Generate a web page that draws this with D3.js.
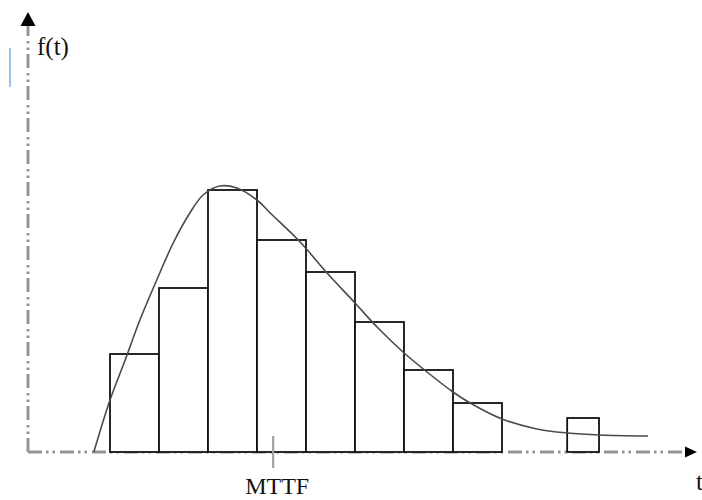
<!DOCTYPE html>
<html>
<head>
<meta charset="utf-8">
<script src="https://cdn.jsdelivr.net/npm/d3@7"></script>
<style>
  html, body { margin: 0; padding: 0; background: #fff; }
  svg { display: block; }
</style>
</head>
<body>
<svg id="chart" width="702" height="500"></svg>
<script>
	// histogram bins (bin index, in units of one bin width) and bar heights
	var binStart = [0, 1, 2, 3, 4, 5, 6, 7];
	var binHeight = [9.8, 16.4, 26.2, 21.2, 18.0, 13.0, 8.2, 4.9];

	// the lone small bin further out
	var outlierStart = [9.33];
	var outlierEnd = [9.98];
	var outlierHeight = [3.4];

	// fitted density curve
	var curveT = [-0.33, 0, 0.31, 0.61, 0.98, 1.29, 1.63, 1.9, 2.24, 2.59, 3.0, 3.27,
		3.88, 4.43, 5.0, 5.45, 5.98, 6.47, 7.0, 7.35, 8.0, 8.71, 9.33, 10.0, 10.98];
	var curveF = [0, 5.2, 9.2, 13.2, 17.5, 20.9, 23.9, 25.7, 26.6, 26.4, 25.2, 23.9,
		21.0, 17.9, 14.9, 12.5, 10.0, 8.0, 6.0, 4.9, 3.3, 2.3, 1.9, 1.7, 1.6];

	var mttf = 3.33;
	var labels = { y: "f(t)", x: "t", mttf: "MTTF" };

	var svg = d3.select("#chart");

	var x = d3.scaleLinear().domain([0, 8]).range([110, 502]);
	var y = d3.scaleLinear().domain([0, 44.2]).range([452, 10]);

	var originX = 28, axisEndX = 697, axisTopY = 12;
	var dash = "14,4,2.5,4,2.5,5";

	// stray cursor mark left of the axis
	svg.append("line")
		.attr("x1", 10).attr("x2", 10)
		.attr("y1", 48).attr("y2", 87)
		.attr("stroke", "#7fb0dd")
		.attr("stroke-width", 1.5);

	// axes: gray dash-dot-dot lines with black arrow heads
	var axes = svg.append("g").attr("class", "axes");
	axes.append("line")
		.attr("x1", originX).attr("x2", originX)
		.attr("y1", y(0)).attr("y2", axisTopY + 13)
		.attr("stroke", "#959595")
		.attr("stroke-width", 3)
		.attr("stroke-dasharray", dash);
	axes.append("line")
		.attr("x1", originX).attr("x2", axisEndX - 12)
		.attr("y1", y(0)).attr("y2", y(0))
		.attr("stroke", "#959595")
		.attr("stroke-width", 3)
		.attr("stroke-dasharray", dash);
	axes.append("path")
		.attr("d", "M" + originX + "," + axisTopY + "L" + (originX - 7.5) + "," + (axisTopY + 14) +
			"L" + (originX + 7.5) + "," + (axisTopY + 14) + "Z")
		.attr("fill", "#000");
	axes.append("path")
		.attr("d", "M" + axisEndX + "," + y(0) + "L" + (axisEndX - 12) + "," + (y(0) - 5.5) +
			"L" + (axisEndX - 12) + "," + (y(0) + 5.5) + "Z")
		.attr("fill", "#000");

	// histogram bars
	var bars = binStart.map(function(d, i) { return { x0: d, x1: d + 1, h: binHeight[i] }; });
	outlierStart.forEach(function(d, i) { bars.push({ x0: d, x1: outlierEnd[i], h: outlierHeight[i] }); });

	svg.append("g").attr("class", "bars")
		.selectAll("rect")
		.data(bars)
		.enter()
		.append("rect")
		.attr("x", function(d) { return x(d.x0); })
		.attr("y", function(d) { return y(d.h); })
		.attr("width", function(d) { return x(d.x1) - x(d.x0); })
		.attr("height", function(d) { return y(0) - y(d.h); })
		.attr("fill", "#fff")
		.attr("stroke", "#111")
		.attr("stroke-width", 1.8);

	// density curve
	var line = d3.line()
		.x(function(d) { return x(d[0]); })
		.y(function(d) { return y(d[1]); })
		.curve(d3.curveCatmullRom.alpha(0.5));

	svg.append("path")
		.datum(d3.zip(curveT, curveF))
		.attr("d", line)
		.attr("fill", "none")
		.attr("stroke", "#4a4a4a")
		.attr("stroke-width", 1.6);

	// MTTF marker
	svg.append("line")
		.attr("x1", x(mttf)).attr("x2", x(mttf))
		.attr("y1", y(0) - 16).attr("y2", y(0) + 16)
		.attr("stroke", "#a0a0a0")
		.attr("stroke-width", 2.2);

	var font = "'Liberation Serif', 'Times New Roman', serif";
	svg.append("text")
		.attr("x", x(mttf) + 4).attr("y", 494)
		.attr("text-anchor", "middle")
		.style("font-family", font)
		.style("font-size", "24px")
		.attr("fill", "#111")
		.text(labels.mttf);
	svg.append("text")
		.attr("x", 37).attr("y", 55)
		.style("font-family", font)
		.style("font-size", "25px")
		.attr("fill", "#111")
		.text(labels.y);
	svg.append("text")
		.attr("x", 696).attr("y", 490)
		.style("font-family", font)
		.style("font-size", "25px")
		.attr("fill", "#111")
		.text(labels.x);
</script>
</body>
</html>
